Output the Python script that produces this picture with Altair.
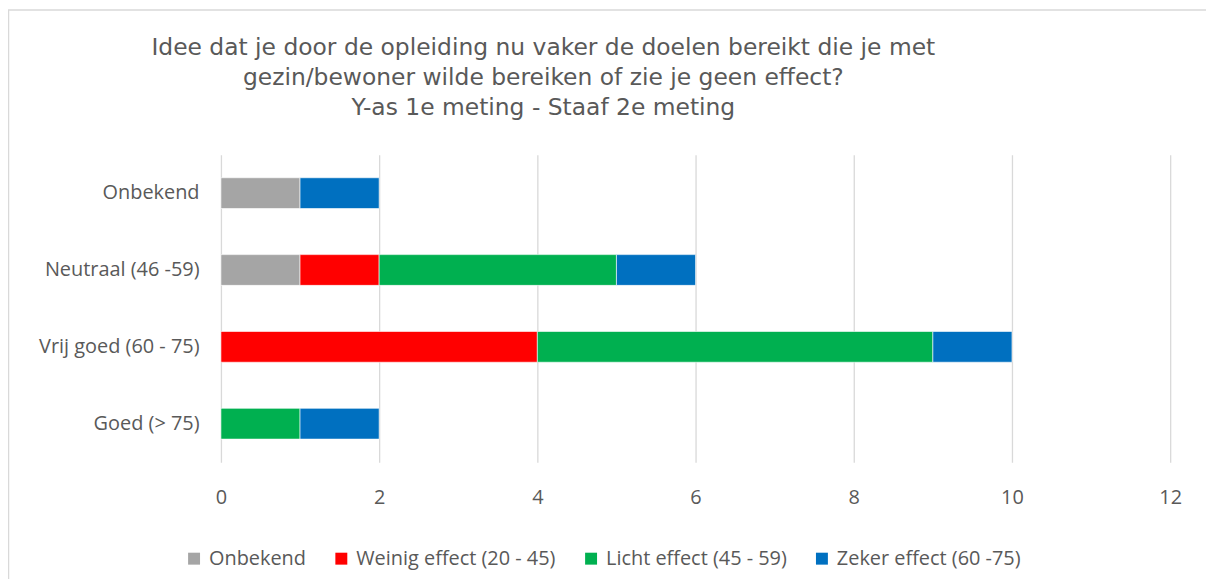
import altair as alt
import pandas as pd

categories = ["Onbekend", "Neutraal (46 -59)", "Vrij goed (60 - 75)", "Goed (> 75)"]
series = ["Onbekend", "Weinig effect (20 - 45)", "Licht effect (45 - 59)", "Zeker effect (60 -75)"]
colors = ["#A5A5A5", "#FF0000", "#00B050", "#0070C0"]

onbekend = [1, 1, 0, 0]
weinig = [0, 1, 4, 0]
licht = [0, 3, 5, 1]
zeker = [1, 1, 1, 1]

title_lines = [
    "Idee dat je door de opleiding nu vaker de doelen bereikt die je met",
    "gezin/bewoner wilde bereiken of zie je geen effect?",
    "Y-as 1e meting - Staaf 2e meting",
]
x_ticks = [0, 2, 4, 6, 8, 10, 12]

rows = []
for si, (s, vals) in enumerate(zip(series, [onbekend, weinig, licht, zeker])):
    for c, v in zip(categories, vals):
        if v:
            rows.append({"cat": c, "series": s, "value": v, "idx": si})
df = pd.DataFrame(rows)

title_df = pd.DataFrame({"line": title_lines, "i": list(range(len(title_lines)))})

label_font = "Open Sans"
text_color = "#595959"

bars = alt.Chart(df).mark_bar(stroke="white", strokeWidth=0.6).encode(
    x=alt.X("value:Q", stack="zero",
            scale=alt.Scale(domain=[0, 12], nice=False),
            axis=alt.Axis(values=x_ticks, title=None, domain=False, ticks=False,
                          grid=True, gridColor="#D9D9D9", gridWidth=1.3,
                          labelFlush=False,
                          labelFont=label_font, labelFontSize=20, labelColor=text_color,
                          labelPadding=26)),
    y=alt.Y("cat:N", sort=categories,
            scale=alt.Scale(paddingInner=0.6, paddingOuter=0.3),
            axis=alt.Axis(title=None, domain=False, ticks=False, grid=False,
                          labelFont=label_font, labelFontSize=20, labelColor=text_color,
                          labelPadding=22, labelLimit=0)),
    color=alt.Color("series:N",
                    scale=alt.Scale(domain=series, range=colors),
                    legend=alt.Legend(title=None, orient="none", direction="horizontal",
                                      legendX=-37, legendY=396,
                                      symbolType="square", symbolSize=144,
                                      symbolStrokeWidth=0, labelLimit=0,
                                      labelFont=label_font, labelFontSize=20,
                                      labelColor=text_color, labelOffset=5,
                                      columnPadding=25)),
    order=alt.Order("idx:Q"),
)

title = alt.Chart(title_df).transform_calculate(
    ty="-100 + 30 * datum.i"
).mark_text(
    font="DejaVu Sans", fontSize=23.5, color=text_color, align="center",
    baseline="alphabetic"
).encode(
    text="line:N",
    x=alt.value(324),
    y=alt.Y("ty:Q", scale=None),
)

border = alt.Chart(alt.Data(values=[{}])).mark_rect(
    fill=None, stroke="#D9D9D9", strokeWidth=1.5
).encode(
    x=alt.value(-213.5), x2=alt.value(1200),
    y=alt.value(-145.5), y2=alt.value(600),
)

chart = alt.layer(border, bars, title).properties(
    width=954,
    height=309,
    padding={"left": 214, "top": 146, "right": 36, "bottom": 116},
    autosize=alt.AutoSizeParams(type="none"),
).configure(background="white").configure_view(stroke=None)

chart.save("out.html", embed_options={"renderer": "svg", "actions": False})
